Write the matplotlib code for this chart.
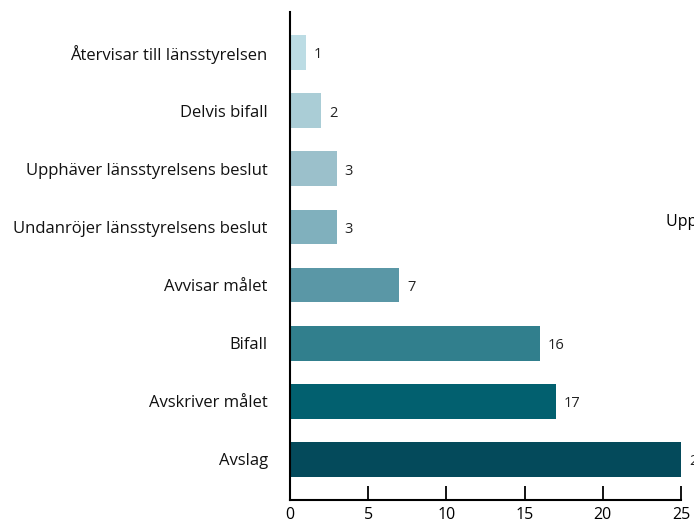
import matplotlib
matplotlib.use("Agg")
import matplotlib.pyplot as plt

categories = ["Återvisar till länsstyrelsen", "Delvis bifall", "Upphäver länsstyrelsens beslut",
              "Undanröjer länsstyrelsens beslut", "Avvisar målet", "Bifall", "Avskriver målet", "Avslag"]
values = [1, 2, 3, 3, 7, 16, 17, 25]
colors = ["#bcdce4", "#aacdd6", "#9bc0cb", "#80b0bd", "#5a97a6", "#317f8d", "#02606f", "#044a5b"]
xticks = [0, 5, 10, 15, 20, 25]

plt.rcParams['font.family'] = ['Open Sans', 'DejaVu Sans']

fig = plt.figure(figsize=(6.94, 5.21), dpi=100)
ax = fig.add_axes([290/694, 1-500/521, (681-290)/694, (500-12)/521])

ypos = list(range(len(categories)))[::-1]
ax.barh(ypos, values, height=0.6, color=colors)
for y, v in zip(ypos, values):
    ax.text(v + 0.5, y - 0.04, str(v), va='center', ha='left', fontsize=10.5, color='#222222', clip_on=False)

ax.set_yticks(ypos)
ax.set_yticklabels(categories, fontsize=12, color='#111111')
ax.tick_params(axis='y', length=0, pad=16)
ax.set_xticks(xticks)
ax.tick_params(axis='x', direction='in', length=10, width=1.3, labelsize=11.5, pad=5)
ax.set_xlim(0, 25)
ax.set_ylim(-0.7, 7.7)
for s in ['top', 'right']:
    ax.spines[s].set_visible(False)
for s in ['left', 'bottom']:
    ax.spines[s].set_linewidth(1.5)

fig.text(666/694, 1-222/521, "Upphäver länsstyrelsens beslut", fontsize=11.5, va='center', ha='left')

fig.savefig("out.png", dpi=100)
